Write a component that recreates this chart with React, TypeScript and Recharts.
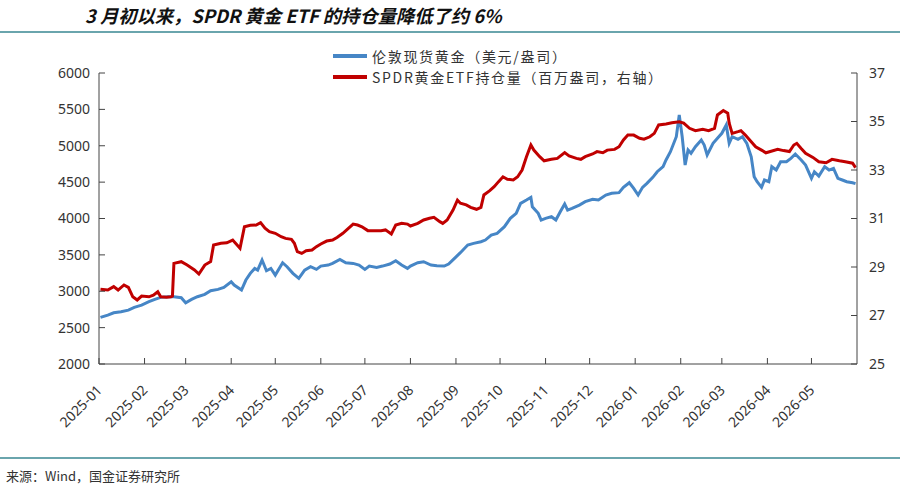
import React from "react";
import { Line, LineChart, XAxis, YAxis } from "recharts";

const TITLE = "3 月初以来，SPDR 黄金 ETF 的持仓量降低了约 6%";
const SOURCE = "来源：Wind，国金证券研究所";

// 伦敦现货黄金（美元/盎司）
const goldDates = [
  "2025-01-02", "2025-01-07", "2025-01-11", "2025-01-16", "2025-01-21", "2025-01-25", "2025-01-30",
  "2025-02-04", "2025-02-08", "2025-02-12", "2025-02-17", "2025-02-21", "2025-02-26",
  "2025-03-01", "2025-03-05", "2025-03-09", "2025-03-14", "2025-03-18", "2025-03-23", "2025-03-27",
  "2025-04-01", "2025-04-03", "2025-04-08", "2025-04-11", "2025-04-14", "2025-04-17", "2025-04-19",
  "2025-04-22", "2025-04-25", "2025-04-28",
  "2025-05-01", "2025-05-06", "2025-05-09", "2025-05-13", "2025-05-17", "2025-05-21", "2025-05-25", "2025-05-29",
  "2025-06-01", "2025-06-06", "2025-06-09", "2025-06-14", "2025-06-18", "2025-06-23", "2025-06-27",
  "2025-07-01", "2025-07-04", "2025-07-09", "2025-07-13", "2025-07-18", "2025-07-22", "2025-07-26", "2025-07-30",
  "2025-08-01", "2025-08-06", "2025-08-10", "2025-08-15", "2025-08-19", "2025-08-24", "2025-08-27", "2025-08-31",
  "2025-09-04", "2025-09-09", "2025-09-13", "2025-09-18", "2025-09-21", "2025-09-25", "2025-09-29",
  "2025-10-04", "2025-10-08", "2025-10-12", "2025-10-15", "2025-10-19", "2025-10-22", "2025-10-23",
  "2025-10-27", "2025-10-29",
  "2025-11-01", "2025-11-05", "2025-11-08", "2025-11-11", "2025-11-14", "2025-11-16", "2025-11-19",
  "2025-11-24", "2025-11-28",
  "2025-12-03", "2025-12-07", "2025-12-12", "2025-12-16", "2025-12-21", "2025-12-24", "2025-12-28", "2025-12-31",
  "2026-01-03", "2026-01-06", "2026-01-09", "2026-01-13", "2026-01-16", "2026-01-20", "2026-01-22",
  "2026-01-25", "2026-01-29", "2026-01-31",
  "2026-02-02", "2026-02-04", "2026-02-06", "2026-02-08", "2026-02-11", "2026-02-15", "2026-02-17",
  "2026-02-19", "2026-02-23", "2026-02-26",
  "2026-03-01", "2026-03-04", "2026-03-06", "2026-03-08", "2026-03-12", "2026-03-15", "2026-03-18",
  "2026-03-21", "2026-03-23", "2026-03-25", "2026-03-28", "2026-03-30",
  "2026-04-02", "2026-04-04", "2026-04-07", "2026-04-10", "2026-04-14", "2026-04-17", "2026-04-20",
  "2026-04-24", "2026-04-27",
  "2026-05-01", "2026-05-03", "2026-05-06", "2026-05-10", "2026-05-13", "2026-05-16", "2026-05-19",
  "2026-05-22", "2026-05-25", "2026-05-29", "2026-05-31",
];
const goldPrice = [
  2640, 2672, 2704, 2718, 2741, 2778, 2810,
  2856, 2888, 2916, 2925, 2925, 2911,
  2842, 2888, 2925, 2957, 3007, 3026, 3053,
  3130, 3085, 3016, 3154, 3246, 3314, 3291,
  3429, 3282, 3314,
  3222, 3392, 3337, 3246, 3177, 3291, 3337, 3301,
  3346, 3360, 3383, 3438, 3392, 3383, 3360,
  3301, 3346, 3328, 3346, 3374, 3419, 3360, 3314,
  3346, 3392, 3406, 3360, 3351, 3346, 3374, 3452,
  3530, 3635, 3658, 3681, 3704, 3773, 3796,
  3887, 4002, 4071, 4208, 4254, 4291, 4162,
  4071, 3979,
  4002, 4025, 3979, 4093, 4200, 4116, 4139,
  4185, 4231,
  4263, 4254, 4323, 4346, 4355, 4428, 4492, 4415,
  4323, 4428, 4483, 4566, 4643, 4712, 4804,
  4918, 5124, 5422,
  5124, 4735, 4941, 4896, 4987, 5079, 5010,
  4873, 5033, 5102,
  5171, 5285, 5033, 5124, 5088, 5124, 5033,
  4849, 4574, 4505, 4428, 4529,
  4505, 4712, 4666, 4781, 4781, 4827, 4886,
  4804, 4735,
  4552, 4643, 4584, 4712, 4666, 4689, 4552,
  4529, 4505, 4492, 4480,
];

// SPDR黄金ETF持仓量（百万盎司，右轴）
const spdrDates = [
  "2025-01-02", "2025-01-07", "2025-01-11", "2025-01-14", "2025-01-18", "2025-01-21", "2025-01-24",
  "2025-01-27", "2025-01-30",
  "2025-02-04", "2025-02-07", "2025-02-10", "2025-02-12", "2025-02-16", "2025-02-19", "2025-02-20",
  "2025-02-21", "2025-02-26",
  "2025-03-02", "2025-03-07", "2025-03-10", "2025-03-14", "2025-03-18", "2025-03-20", "2025-03-25",
  "2025-03-29",
  "2025-04-02", "2025-04-07", "2025-04-10", "2025-04-14", "2025-04-18", "2025-04-21", "2025-04-24",
  "2025-04-27",
  "2025-05-01", "2025-05-05", "2025-05-08", "2025-05-12", "2025-05-14", "2025-05-16", "2025-05-19",
  "2025-05-22", "2025-05-26", "2025-05-29",
  "2025-06-01", "2025-06-05", "2025-06-09", "2025-06-12", "2025-06-16", "2025-06-19", "2025-06-23",
  "2025-06-26", "2025-06-29",
  "2025-07-03", "2025-07-07", "2025-07-12", "2025-07-15", "2025-07-19", "2025-07-22", "2025-07-26",
  "2025-07-30",
  "2025-08-01", "2025-08-06", "2025-08-10", "2025-08-14", "2025-08-17", "2025-08-21", "2025-08-23",
  "2025-08-26", "2025-08-30",
  "2025-09-02", "2025-09-04", "2025-09-08", "2025-09-11", "2025-09-15", "2025-09-18", "2025-09-20",
  "2025-09-24", "2025-09-27", "2025-09-30",
  "2025-10-03", "2025-10-06", "2025-10-10", "2025-10-13", "2025-10-16", "2025-10-19", "2025-10-22",
  "2025-10-24", "2025-10-28", "2025-10-31",
  "2025-11-05", "2025-11-09", "2025-11-14", "2025-11-17", "2025-11-22", "2025-11-25", "2025-11-28",
  "2025-12-03", "2025-12-06", "2025-12-10", "2025-12-13", "2025-12-18", "2025-12-21", "2025-12-24",
  "2025-12-27", "2025-12-31",
  "2026-01-04", "2026-01-07", "2026-01-11", "2026-01-14", "2026-01-17", "2026-01-22", "2026-01-26",
  "2026-01-31",
  "2026-02-03", "2026-02-07", "2026-02-11", "2026-02-16", "2026-02-20", "2026-02-24", "2026-02-26",
  "2026-03-02", "2026-03-05", "2026-03-06", "2026-03-08", "2026-03-12", "2026-03-14", "2026-03-17",
  "2026-03-21", "2026-03-24", "2026-03-28", "2026-03-31",
  "2026-04-03", "2026-04-08", "2026-04-12", "2026-04-16", "2026-04-19", "2026-04-21", "2026-04-24",
  "2026-04-27",
  "2026-05-02", "2026-05-06", "2026-05-11", "2026-05-15", "2026-05-20", "2026-05-24", "2026-05-29",
  "2026-05-31",
];
const spdrHolding = [
  28.08, 28.05, 28.19, 28.05, 28.26, 28.16, 27.77,
  27.64, 27.8,
  27.77, 27.84, 27.98, 27.77, 27.75, 27.77, 27.8,
  29.15, 29.22,
  29.08, 28.88, 28.71, 29.08, 29.22, 29.91, 29.98,
  30.0,
  30.11, 29.77, 30.66, 30.72, 30.73, 30.83, 30.6,
  30.46,
  30.39, 30.25, 30.18, 30.14, 29.98, 29.63, 29.56,
  29.67, 29.7, 29.84,
  29.95, 30.07, 30.11, 30.22, 30.39, 30.55, 30.77,
  30.73, 30.66,
  30.5, 30.5, 30.5, 30.53, 30.36, 30.73, 30.8,
  30.77,
  30.69, 30.8, 30.94, 31.01, 31.05, 30.87, 30.8,
  30.94, 31.35,
  31.76, 31.63, 31.56, 31.46, 31.38, 31.46, 31.97,
  32.15, 32.31, 32.52,
  32.72, 32.62, 32.59, 32.72, 33.0, 33.55, 34.03,
  33.82, 33.55, 33.38,
  33.44, 33.48, 33.72, 33.58, 33.48, 33.44, 33.55,
  33.66, 33.76, 33.71, 33.82, 33.85, 33.96, 34.24,
  34.44, 34.44,
  34.31, 34.27, 34.37, 34.51, 34.86, 34.9, 34.95,
  34.99,
  34.93, 34.72, 34.62, 34.68, 34.62, 34.72, 35.27,
  35.45, 35.34, 34.93, 34.51, 34.58, 34.62, 34.44,
  34.17, 33.96, 33.82, 33.71,
  33.76, 33.85, 33.8, 33.76, 34.03, 34.1, 33.89,
  33.69,
  33.52, 33.34, 33.3, 33.44, 33.38, 33.34, 33.28,
  33.1,
];

const monthTicks = [
  "2025-01", "2025-02", "2025-03", "2025-04", "2025-05", "2025-06", "2025-07", "2025-08", "2025-09",
  "2025-10", "2025-11", "2025-12", "2026-01", "2026-02", "2026-03", "2026-04", "2026-05",
];
const leftTicks = [2000, 2500, 3000, 3500, 4000, 4500, 5000, 5500, 6000];
const rightTicks = [25, 27, 29, 31, 33, 35, 37];

const series = [
  { key: "gold", name: "伦敦现货黄金（美元/盎司）", color: "#4686c6" },
  { key: "spdr", name: "SPDR黄金ETF持仓量（百万盎司，右轴）", color: "#c00000" },
];

const TEAL = "#6aa5ad";
const INK = "#333";
const AXIS = "#444";
const FONT = "'Noto Sans', 'Noto Sans CJK SC', sans-serif";
const CJK = "'Noto Sans CJK SC', sans-serif";

const toTime = (d: string) => {
  const [y, m, dd] = d.split("-").map(Number);
  return Date.UTC(y, m - 1, dd || 1);
};

const goldData = goldDates.map((d, i) => ({ t: toTime(d), gold: goldPrice[i] }));
const spdrData = spdrDates.map((d, i) => ({ t: toTime(d), spdr: spdrHolding[i] }));
const tickTimes = monthTicks.map(toTime);
const xDomain = [toTime("2025-01-01"), toTime("2026-06-01")];

const monthLabel = (v: number) => {
  const d = new Date(v);
  return `${d.getUTCFullYear()}-${String(d.getUTCMonth() + 1).padStart(2, "0")}`;
};

function MonthTick(props: any) {
  const { x, payload } = props;
  const ax = x + 4;
  const ay = 391;
  return (
    <text
      x={ax}
      y={ay}
      transform={`rotate(-45 ${ax} ${ay})`}
      textAnchor="end"
      fontSize={14}
      fontFamily={FONT}
      fill={INK}
    >
      {monthLabel(payload.value)}
    </text>
  );
}

export default function App() {
  return (
    <div
      style={{
        position: "absolute",
        left: 0,
        top: 0,
        width: 900,
        height: 491,
        background: "#fff",
        overflow: "hidden",
      }}
    >
      <div
        style={{
          position: "absolute",
          left: 85,
          top: 3,
          fontFamily: CJK,
          fontSize: 18.3,
          lineHeight: "24px",
          fontWeight: 700,
          fontStyle: "italic",
          color: "#111",
          whiteSpace: "nowrap",
        }}
      >
        {TITLE}
      </div>
      <div style={{ position: "absolute", left: 0, top: 31, width: 900, height: 2, background: TEAL }} />

      <LineChart width={900} height={491} margin={{ top: 73, right: 0, bottom: 0, left: 0 }}>
        <XAxis
          type="number"
          dataKey="t"
          domain={xDomain}
          ticks={tickTimes}
          interval={0}
          allowDataOverflow
          height={127}
          stroke={AXIS}
          tickLine={{ stroke: AXIS }}
          tickSize={-6}
          tickMargin={8}
          tick={<MonthTick />}
        />
        <YAxis
          yAxisId="left"
          domain={[2000, 6000]}
          ticks={leftTicks}
          interval={0}
          width={99}
          stroke={AXIS}
          tickLine={{ stroke: AXIS }}
          tickSize={-6}
          tickMargin={15}
          tick={{ fill: INK, fontSize: 14, fontFamily: FONT }}
        />
        <YAxis
          yAxisId="right"
          orientation="right"
          domain={[25, 37]}
          ticks={rightTicks}
          interval={0}
          width={43}
          stroke={AXIS}
          tickLine={{ stroke: AXIS }}
          tickSize={-6}
          tickMargin={18}
          tick={{ fill: INK, fontSize: 14, fontFamily: FONT, textAnchor: "start" }}
        />
        <Line
          yAxisId="left"
          data={goldData}
          dataKey="gold"
          name={series[0].name}
          stroke={series[0].color}
          strokeWidth={3}
          dot={false}
          type="linear"
          isAnimationActive={false}
        />
        <Line
          yAxisId="right"
          data={spdrData}
          dataKey="spdr"
          name={series[1].name}
          stroke={series[1].color}
          strokeWidth={3}
          dot={false}
          type="linear"
          isAnimationActive={false}
        />
      </LineChart>

      <div style={{ position: "absolute", left: 333, top: 46 }}>
        {series.map((s) => (
          <div key={s.key} style={{ display: "flex", alignItems: "center", height: 20.5 }}>
            <span style={{ display: "inline-block", width: 34, height: 4, background: s.color, marginRight: 5 }} />
            <span
              style={{
                fontFamily: CJK,
                fontSize: 14,
                lineHeight: "20.5px",
                letterSpacing: 1.7,
                color: INK,
                whiteSpace: "nowrap",
              }}
            >
              {s.name}
            </span>
          </div>
        ))}
      </div>

      <div style={{ position: "absolute", left: 0, top: 457, width: 900, height: 2, background: TEAL }} />
      <div
        style={{
          position: "absolute",
          left: 6,
          top: 466,
          fontFamily: CJK,
          fontSize: 13,
          color: INK,
          whiteSpace: "nowrap",
        }}
      >
        {SOURCE}
      </div>
    </div>
  );
}
